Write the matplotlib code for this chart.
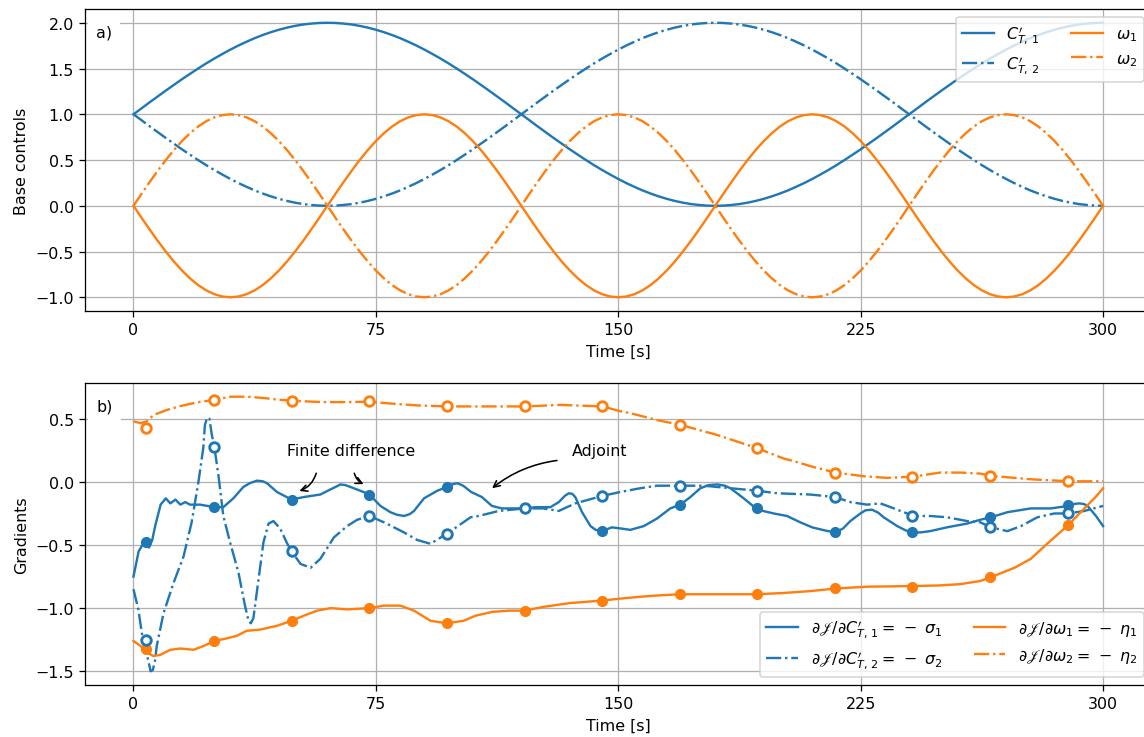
import numpy as np
import matplotlib
matplotlib.use('Agg')
import matplotlib.pyplot as plt

# ---- panel a) base controls, read every 2.5 s ----
t_base = np.arange(0, 300.1, 2.5)
ct1 = [1.000, 1.065, 1.131, 1.195, 1.259, 1.321, 1.383, 1.442, 1.500, 1.556, 1.609, 1.659,
       1.707, 1.752, 1.793, 1.832, 1.866, 1.897, 1.924, 1.947, 1.966, 1.981, 1.991, 1.998, 2.000,
       1.998, 1.991, 1.981, 1.966, 1.947, 1.924, 1.897, 1.866, 1.832, 1.793, 1.752, 1.707,
       1.659, 1.609, 1.556, 1.500, 1.442, 1.383, 1.321, 1.259, 1.195, 1.131, 1.065, 1.000,
       0.935, 0.869, 0.805, 0.741, 0.679, 0.617, 0.558, 0.500, 0.444, 0.391, 0.341, 0.293,
       0.248, 0.207, 0.168, 0.134, 0.103, 0.076, 0.053, 0.034, 0.019, 0.009, 0.002, 0.000,
       0.002, 0.009, 0.019, 0.034, 0.053, 0.076, 0.103, 0.134, 0.168, 0.207, 0.248, 0.293,
       0.341, 0.391, 0.444, 0.500, 0.558, 0.617, 0.679, 0.741, 0.805, 0.869, 0.935, 1.000,
       1.065, 1.131, 1.195, 1.259, 1.321, 1.383, 1.442, 1.500, 1.556, 1.609, 1.659, 1.707,
       1.752, 1.793, 1.832, 1.866, 1.897, 1.924, 1.947, 1.966, 1.981, 1.991, 1.998, 2.000]
ct2 = [1.000, 0.935, 0.869, 0.805, 0.741, 0.679, 0.617, 0.558, 0.500, 0.444, 0.391, 0.341,
       0.293, 0.248, 0.207, 0.168, 0.134, 0.103, 0.076, 0.053, 0.034, 0.019, 0.009, 0.002, 0.000,
       0.002, 0.009, 0.019, 0.034, 0.053, 0.076, 0.103, 0.134, 0.168, 0.207, 0.248, 0.293,
       0.341, 0.391, 0.444, 0.500, 0.558, 0.617, 0.679, 0.741, 0.805, 0.869, 0.935, 1.000,
       1.065, 1.131, 1.195, 1.259, 1.321, 1.383, 1.442, 1.500, 1.556, 1.609, 1.659, 1.707,
       1.752, 1.793, 1.832, 1.866, 1.897, 1.924, 1.947, 1.966, 1.981, 1.991, 1.998, 2.000,
       1.998, 1.991, 1.981, 1.966, 1.947, 1.924, 1.897, 1.866, 1.832, 1.793, 1.752, 1.707,
       1.659, 1.609, 1.556, 1.500, 1.442, 1.383, 1.321, 1.259, 1.195, 1.131, 1.065, 1.000,
       0.935, 0.869, 0.805, 0.741, 0.679, 0.617, 0.558, 0.500, 0.444, 0.391, 0.341, 0.293,
       0.248, 0.207, 0.168, 0.134, 0.103, 0.076, 0.053, 0.034, 0.019, 0.009, 0.002, 0.000]
om1 = [0.000, -0.131, -0.259, -0.383, -0.500, -0.609, -0.707, -0.793, -0.866, -0.924,
       -0.966, -0.991, -1.000, -0.991, -0.966, -0.924, -0.866, -0.793, -0.707, -0.609,
       -0.500, -0.383, -0.259, -0.131, 0.000,
       0.131, 0.259, 0.383, 0.500, 0.609, 0.707, 0.793, 0.866, 0.924, 0.966, 0.991, 1.000,
       0.991, 0.966, 0.924, 0.866, 0.793, 0.707, 0.609, 0.500, 0.383, 0.259, 0.131, 0.000,
       -0.131, -0.259, -0.383, -0.500, -0.609, -0.707, -0.793, -0.866, -0.924, -0.966,
       -0.991, -1.000, -0.991, -0.966, -0.924, -0.866, -0.793, -0.707, -0.609, -0.500,
       -0.383, -0.259, -0.131, 0.000,
       0.131, 0.259, 0.383, 0.500, 0.609, 0.707, 0.793, 0.866, 0.924, 0.966, 0.991, 1.000,
       0.991, 0.966, 0.924, 0.866, 0.793, 0.707, 0.609, 0.500, 0.383, 0.259, 0.131, 0.000,
       -0.131, -0.259, -0.383, -0.500, -0.609, -0.707, -0.793, -0.866, -0.924, -0.966,
       -0.991, -1.000, -0.991, -0.966, -0.924, -0.866, -0.793, -0.707, -0.609, -0.500,
       -0.383, -0.259, -0.131, 0.000]
om2 = [0.000, 0.131, 0.259, 0.383, 0.500, 0.609, 0.707, 0.793, 0.866, 0.924, 0.966, 0.991,
       1.000, 0.991, 0.966, 0.924, 0.866, 0.793, 0.707, 0.609, 0.500, 0.383, 0.259, 0.131, 0.000,
       -0.131, -0.259, -0.383, -0.500, -0.609, -0.707, -0.793, -0.866, -0.924, -0.966,
       -0.991, -1.000, -0.991, -0.966, -0.924, -0.866, -0.793, -0.707, -0.609, -0.500,
       -0.383, -0.259, -0.131, 0.000,
       0.131, 0.259, 0.383, 0.500, 0.609, 0.707, 0.793, 0.866, 0.924, 0.966, 0.991, 1.000,
       0.991, 0.966, 0.924, 0.866, 0.793, 0.707, 0.609, 0.500, 0.383, 0.259, 0.131, 0.000,
       -0.131, -0.259, -0.383, -0.500, -0.609, -0.707, -0.793, -0.866, -0.924, -0.966,
       -0.991, -1.000, -0.991, -0.966, -0.924, -0.866, -0.793, -0.707, -0.609, -0.500,
       -0.383, -0.259, -0.131, 0.000,
       0.131, 0.259, 0.383, 0.500, 0.609, 0.707, 0.793, 0.866, 0.924, 0.966, 0.991, 1.000,
       0.991, 0.966, 0.924, 0.866, 0.793, 0.707, 0.609, 0.500, 0.383, 0.259, 0.131, 0.000]

# ---- panel b) adjoint gradients (traced) ----
t_s1 = [0, 1.6, 3.0, 4.0, 4.8, 5.8, 6.8, 8.4, 10.0, 11.4, 13.0, 14.5, 16.0, 17.5, 20.6,
        25.0, 27.8, 30.9, 34.0, 36.0, 38.2, 40.0, 41.3, 44.4, 48.9, 52.7, 57.8, 60.9,
        62.5, 64.0, 65.5, 67.1, 70.2, 73.0, 76.4, 79.5, 81.5, 83.7, 85.5, 86.8, 89.9,
        94.0, 97.0, 98.5, 100.2, 102.0, 104.5, 107.8, 110.9, 114.0, 121.0, 124.4, 129.0,
        131.6, 133.5, 134.7, 135.8, 136.7, 138.8, 141.4, 143.0, 145.0, 146.5, 148.0,
        151.1, 153.7, 157.9, 162.0, 166.1, 169.2, 172.3, 175.4, 178.0, 180.6, 183.0,
        184.7, 188.8, 193.1, 198.1, 202.2, 206.3, 210.0, 214.0, 217.1, 219.5, 221.8,
        224.9, 226.5, 228.5, 230.5, 232.1, 236.3, 239.0, 241.4, 243.5, 246.5, 251.7,
        257.9, 262.0, 265.3, 270.4, 277.6, 283.8, 289.3, 291.0, 292.6, 294.0, 295.2,
        297.8, 300.0]
sigma1 = [-0.75, -0.55, -0.49, -0.48, -0.52, -0.46, -0.34, -0.18, -0.13, -0.17, -0.14,
          -0.18, -0.16, -0.18, -0.18, -0.20, -0.20, -0.13, -0.04, -0.01, 0.01, 0.005,
          -0.01, -0.08, -0.14, -0.12, -0.10, -0.06, -0.04, -0.02, -0.025, -0.04, -0.07,
          -0.10, -0.19, -0.24, -0.26, -0.27, -0.255, -0.23, -0.13, -0.07, -0.04, -0.02,
          -0.01, -0.03, -0.08, -0.12, -0.19, -0.21, -0.21, -0.20, -0.20, -0.16, -0.11,
          -0.09, -0.095, -0.12, -0.24, -0.35, -0.38, -0.39, -0.375, -0.36, -0.37, -0.38,
          -0.35, -0.29, -0.21, -0.18, -0.12, -0.05, -0.025, -0.02, -0.03, -0.05, -0.13,
          -0.22, -0.25, -0.27, -0.32, -0.36, -0.385, -0.40, -0.37, -0.31, -0.25, -0.225,
          -0.22, -0.245, -0.28, -0.35, -0.385, -0.40, -0.40, -0.39, -0.36, -0.33, -0.30,
          -0.28, -0.24, -0.21, -0.21, -0.19, -0.175, -0.17, -0.175, -0.19, -0.27, -0.35]

t_s2 = [0, 1.5, 2.6, 4.1, 4.7, 5.3, 6.0, 6.7, 7.2, 9.3, 12.4, 15.5, 18.0, 20.1, 21.6,
        22.1, 22.8, 23.5, 24.2, 25.0, 26.3, 27.8, 29.9, 32.5, 34.5, 35.6, 36.3, 37.1,
        38.7, 40.2, 41.8, 43.3, 45.4, 47.4, 48.9, 51.7, 54.8, 57.8, 62.0, 66.1, 69.2,
        73.0, 77.5, 83.7, 87.8, 91.9, 97.0, 100.4, 104.3, 106.8, 113.0, 121.0, 126.8,
        131.6, 136.7, 145.2, 150.6, 156.8, 162.0, 169.2, 176.5, 184.7, 193.1, 199.1,
        209.4, 217.1, 221.8, 227.0, 231.1, 235.3, 241.4, 246.5, 251.7, 257.9, 262.0,
        265.3, 270.4, 274.6, 279.7, 284.9, 289.3, 294.2, 300.0]
sigma2 = [-0.85, -1.01, -1.20, -1.36, -1.43, -1.50, -1.49, -1.41, -1.30, -1.04, -0.80,
          -0.59, -0.32, 0.00, 0.27, 0.45, 0.51, 0.50, 0.38, 0.28, 0.05, -0.27, -0.48,
          -0.72, -0.98, -1.10, -1.12, -1.08, -0.77, -0.48, -0.33, -0.31, -0.37, -0.48,
          -0.55, -0.65, -0.68, -0.61, -0.44, -0.35, -0.30, -0.27, -0.32, -0.40, -0.46,
          -0.49, -0.41, -0.35, -0.28, -0.27, -0.23, -0.21, -0.21, -0.23, -0.17, -0.11,
          -0.08, -0.05, -0.03, -0.03, -0.03, -0.05, -0.07, -0.09, -0.10, -0.12, -0.16,
          -0.18, -0.17, -0.21, -0.27, -0.27, -0.28, -0.31, -0.32, -0.36, -0.39, -0.35,
          -0.28, -0.25, -0.25, -0.23, -0.19]

t_e1 = [0, 2.2, 4.1, 6.2, 8.3, 11.4, 14.5, 18.6, 21.7, 25.0, 28.8, 31.9, 35.0, 39.2,
        44.4, 48.9, 52.7, 56.8, 61.0, 66.1, 73.0, 77.5, 82.6, 86.8, 91.9, 97.0, 102.2,
        105.8, 110.9, 116.1, 121.0, 126.8, 135.0, 145.0, 150.5, 156.8, 162.0, 169.2,
        180.6, 193.1, 201.1, 209.4, 217.1, 226.9, 241.4, 249.6, 255.8, 262.0, 265.3,
        272.6, 277.6, 282.7, 289.3, 294.2, 297.3, 300.0]
eta1 = [-1.26, -1.30, -1.35, -1.38, -1.37, -1.33, -1.32, -1.33, -1.30, -1.26, -1.24,
        -1.22, -1.18, -1.17, -1.14, -1.10, -1.06, -1.02, -1.00, -1.01, -1.00, -0.98,
        -0.98, -1.02, -1.10, -1.12, -1.10, -1.06, -1.03, -1.02, -1.02, -0.99, -0.96,
        -0.94, -0.925, -0.91, -0.90, -0.89, -0.89, -0.89, -0.88, -0.865, -0.845, -0.83,
        -0.825, -0.82, -0.81, -0.785, -0.755, -0.68, -0.61, -0.49, -0.34, -0.21, -0.13,
        -0.05]

t_e2 = [0, 2.2, 4.1, 6.2, 10.3, 14.4, 19.6, 25.0, 29.9, 35.0, 40.2, 45.4, 51.7, 58.9,
        64.0, 73.0, 81.6, 87.8, 97.0, 104.3, 111.0, 121.0, 132.0, 145.2, 150.6, 153.7,
        162.0, 169.2, 180.6, 193.1, 201.1, 206.3, 209.4, 217.1, 225.9, 233.1, 241.4,
        249.6, 255.8, 262.0, 265.3, 277.6, 289.3, 300.0]
eta2 = [0.48, 0.465, 0.48, 0.53, 0.57, 0.60, 0.63, 0.65, 0.675, 0.675, 0.665, 0.65,
        0.64, 0.632, 0.632, 0.635, 0.617, 0.606, 0.598, 0.598, 0.598, 0.598, 0.61, 0.598,
        0.56, 0.545, 0.49, 0.452, 0.372, 0.266, 0.186, 0.15, 0.125, 0.074, 0.045, 0.032,
        0.042, 0.074, 0.074, 0.066, 0.048, 0.021, 0.005, 0.005]

# ---- finite difference check points ----
t_fd = [4, 25, 49, 73, 97, 121, 145, 169, 193, 217, 241, 265, 289]
sigma1_fd = [-0.48, -0.20, -0.14, -0.10, -0.04, -0.21, -0.39, -0.18, -0.21, -0.40, -0.40, -0.28, -0.18]
sigma2_fd = [-1.25, 0.28, -0.55, -0.27, -0.41, -0.21, -0.11, -0.03, -0.07, -0.12, -0.27, -0.36, -0.25]
eta1_fd = [-1.32, -1.26, -1.10, -1.00, -1.12, -1.02, -0.94, -0.89, -0.89, -0.84, -0.83, -0.75, -0.34]
eta2_fd = [0.43, 0.65, 0.64, 0.64, 0.60, 0.60, 0.60, 0.45, 0.27, 0.07, 0.04, 0.05, 0.005]

xticks = [0, 75, 150, 225, 300]

fig = plt.figure(figsize=(10, 6.451), dpi=114.4)
# axes run a little past the right border, as in the original crop
ax1 = fig.add_axes([0.0743, 0.5772, 0.9323, 0.4092])
ax2 = fig.add_axes([0.0743, 0.0705, 0.9323, 0.4092])

ax1.plot(t_base, ct1, '-', color='C0', label=r"$C^{\prime}_{T,\,1}$")
ax1.plot(t_base, ct2, '-.', color='C0', label=r"$C^{\prime}_{T,\,2}$")
ax1.plot(t_base, om1, '-', color='C1', label=r"$\omega_1$")
ax1.plot(t_base, om2, '-.', color='C1', label=r"$\omega_2$")
ax1.set_xlim(-15, 315)
ax1.set_xticks(xticks)
ax1.set_xlabel("Time [s]")
ax1.set_ylabel("Base controls")
ax1.grid(True)
ax1.legend(loc='upper right', ncol=2)
ax1.text(0.0105, 0.925, "a)", transform=ax1.transAxes, va='center', ha='left',
         bbox=dict(boxstyle='square,pad=0.5', fc='white', ec='none'), zorder=3)

ax2.plot(t_s1, sigma1, '-', color='C0',
         label=r"$\partial\mathscr{J}/\partial C^{\prime}_{T,\,1} = \,-\;\sigma_1$")
ax2.plot(t_s2, sigma2, '-.', color='C0',
         label=r"$\partial\mathscr{J}/\partial C^{\prime}_{T,\,2} = \,-\;\sigma_2$")
ax2.plot(t_e1, eta1, '-', color='C1',
         label=r"$\partial\mathscr{J}/\partial \omega_1 = \,-\;\eta_1$")
ax2.plot(t_e2, eta2, '-.', color='C1',
         label=r"$\partial\mathscr{J}/\partial \omega_2 = \,-\;\eta_2$")
ax2.plot(t_fd, sigma1_fd, 'o', color='C0', ms=6, zorder=3)
ax2.plot(t_fd, eta1_fd, 'o', color='C1', ms=6, zorder=3)
ax2.plot(t_fd, sigma2_fd, 'o', mfc='white', mec='C0', mew=1.8, ms=6, zorder=4)
ax2.plot(t_fd, eta2_fd, 'o', mfc='white', mec='C1', mew=1.8, ms=6, zorder=4)
ax2.set_xlim(-15, 315)
ax2.set_xticks(xticks)
ax2.set_xlabel("Time [s]")
ax2.set_ylabel("Gradients")
ax2.grid(True)
ax2.legend(loc='lower right', ncol=2)
ax2.text(0.0105, 0.925, "b)", transform=ax2.transAxes, va='center', ha='left',
         bbox=dict(boxstyle='square,pad=0.5', fc='white', ec='none'), zorder=3)

ax2.text(67.4, 0.247, "Finite difference", ha='center', va='center')
ax2.text(144.2, 0.247, "Adjoint", ha='center', va='center')
arrow = dict(arrowstyle='->', color='black', lw=1)
ax2.annotate("", xy=(50.4, -0.08), xytext=(56.8, 0.093),
             arrowprops=dict(arrow, connectionstyle='arc3,rad=-0.3'))
ax2.annotate("", xy=(72.1, -0.027), xytext=(68.1, 0.093),
             arrowprops=dict(arrow, connectionstyle='arc3,rad=0.3'))
ax2.annotate("", xy=(110.2, -0.066), xytext=(132.0, 0.173),
             arrowprops=dict(arrow, connectionstyle='arc3,rad=0.15'))

fig.savefig("out.png", dpi=114.4)
